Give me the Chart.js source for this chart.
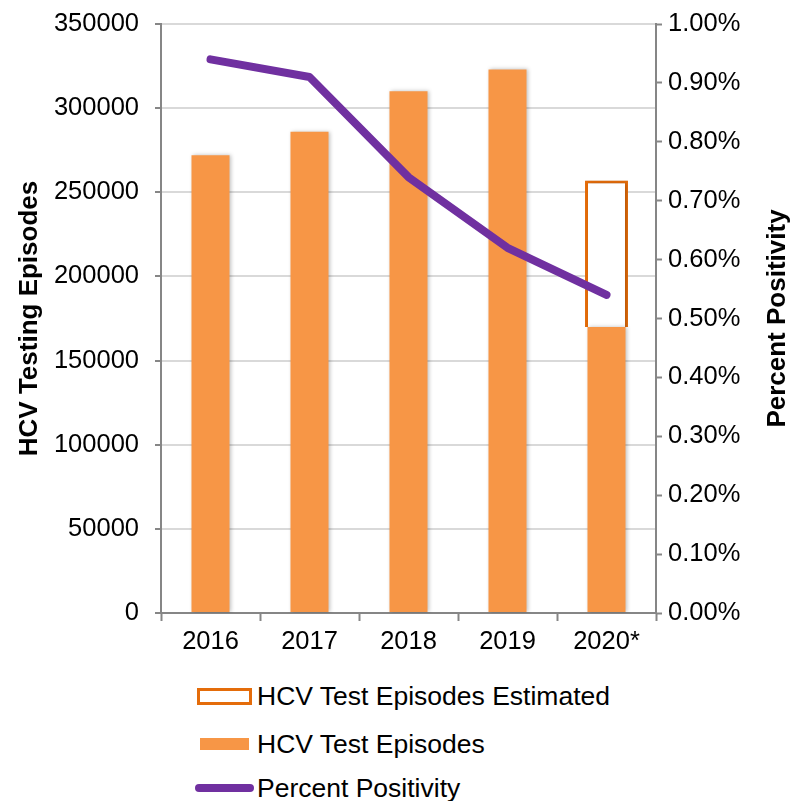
<!DOCTYPE html>
<html lang="en">
<head>
  <meta charset="UTF-8">
  <title>HCV Testing Episodes</title>
  <script src="https://cdn.jsdelivr.net/npm/chart.js"></script>
  <style>
    body { margin: 0; background: #fff; font-family: "Liberation Sans", Arial, sans-serif; }
    .wrap { position: relative; width: 794px; height: 801px; }
    .chart-box { position: absolute; left: 0; top: 0; width: 794px; height: 660px; }
    .legend-row { position: absolute; left: 0; height: 30px; line-height: 30px; font-size: 26.5px; color: #000; white-space: nowrap; }
    .legend-row span.txt { position: absolute; left: 257px; top: 0; }
    .sw { position: absolute; box-sizing: border-box; }
  </style>
</head>
<body>
  <div class="wrap">
    <div class="chart-box">
      <canvas id="grafico"></canvas>
    </div>

    <div class="legend-row" style="top: 681px;">
      <div class="sw" style="left: 197px; top: 7px; width: 55px; height: 17px; border: 3px solid #E46C0A; background: #fff;"></div>
      <span class="txt">HCV Test Episodes Estimated</span>
    </div>
    <div class="legend-row" style="top: 729px;">
      <div class="sw" style="left: 200px; top: 9px; width: 49px; height: 12px; background: #F79646;"></div>
      <span class="txt">HCV Test Episodes</span>
    </div>
    <div class="legend-row" style="top: 773px;">
      <div class="sw" style="left: 195px; top: 11px; width: 59px; height: 8px; border-radius: 4px; background: #7030A0;"></div>
      <span class="txt">Percent Positivity</span>
    </div>
  </div>

<script>
  // valores
  const anos = ['2016', '2017', '2018', '2019', '2020*'];
  const episodios = [272000, 286000, 310000, 323000, 170000];
  const episodiosEstimados = [null, null, null, null, 87000];
  const positividade = [0.94, 0.91, 0.74, 0.62, 0.54];

  const cinza = '#868686';
  const fonte = 'Liberation Sans, Arial, sans-serif';

  // sombra leve nas barras
  const sombraBarras = {
    id: 'sombraBarras',
    beforeDatasetDraw(chart, args) {
      if (args.meta.type !== 'bar') return;
      const ctx = chart.ctx;
      ctx.save();
      ctx.shadowColor = 'rgba(0,0,0,0.25)';
      ctx.shadowBlur = 4;
      ctx.shadowOffsetX = 1.5;
      ctx.shadowOffsetY = 0;
    },
    afterDatasetDraw(chart, args) {
      if (args.meta.type !== 'bar') return;
      chart.ctx.restore();
    }
  };

  // titulo do eixo direito, lido de baixo para cima
  const tituloDireita = {
    id: 'tituloDireita',
    afterDraw(chart) {
      const ctx = chart.ctx;
      const area = chart.chartArea;
      ctx.save();
      ctx.translate(778, (area.top + area.bottom) / 2);
      ctx.rotate(-Math.PI / 2);
      ctx.font = 'bold 26px ' + fonte;
      ctx.fillStyle = '#000';
      ctx.textAlign = 'center';
      ctx.textBaseline = 'middle';
      ctx.fillText('Percent Positivity', 0, 0);
      ctx.restore();
    }
  };

  // tira o espaco extra que o Chart.js reserva para os rotulos
  function semPadding(s) {
    s.paddingTop = 0;
    s.paddingBottom = 0;
  }

  const data = {
    labels: anos,
    datasets: [
      {
        type: 'line',
        label: 'Percent Positivity',
        data: positividade,
        yAxisID: 'y1',
        borderColor: '#7030A0',
        backgroundColor: '#7030A0',
        borderWidth: 8,
        borderCapStyle: 'round',
        borderJoinStyle: 'round',
        pointRadius: 0,
        tension: 0,
        order: 0
      },
      {
        type: 'bar',
        label: 'HCV Test Episodes',
        data: episodios,
        yAxisID: 'y',
        stack: 'ep',
        backgroundColor: '#F79646',
        borderWidth: 0,
        barPercentage: 0.384,
        categoryPercentage: 1,
        order: 1
      },
      {
        type: 'bar',
        label: 'HCV Test Episodes Estimated',
        data: episodiosEstimados,
        yAxisID: 'y',
        stack: 'ep',
        backgroundColor: '#ffffff',
        borderColor: '#E46C0A',
        borderWidth: 3,
        barPercentage: 0.434,
        categoryPercentage: 1,
        order: 2
      }
    ]
  };

  const config = {
    data: data,
    plugins: [sombraBarras, tituloDireita],
    options: {
      responsive: true,
      maintainAspectRatio: false,
      animation: false,
      layout: { padding: { top: 24, left: 0, right: 0, bottom: 0 } },
      plugins: {
        legend: { display: false },
        tooltip: { enabled: false }
      },
      scales: {
        x: {
          stacked: true,
          offset: true,
          grid: {
            offset: true,
            drawOnChartArea: false,
            drawTicks: true,
            tickLength: 8,
            tickColor: cinza,
            tickWidth: 2
          },
          border: { color: cinza, width: 2 },
          ticks: { color: '#000', font: { family: fonte, size: 25.5 }, padding: 6, maxRotation: 0 },
          afterFit: s => { s.height = 47; }
        },
        y: {
          position: 'left',
          stacked: true,
          min: 0,
          max: 350000,
          grid: {
            color: '#d9d9d9',
            lineWidth: 2,
            drawTicks: true,
            tickLength: 6,
            tickColor: cinza,
            tickWidth: 2
          },
          border: { color: cinza, width: 2 },
          ticks: {
            stepSize: 50000,
            color: '#000',
            font: { family: fonte, size: 25.5 },
            padding: 16,
            callback: v => String(v)
          },
          title: {
            display: true,
            text: 'HCV Testing Episodes',
            color: '#000',
            font: { family: fonte, size: 26, weight: 'bold' },
            padding: { top: 14, bottom: 0 }
          },
          afterFit: s => { s.width = 161; semPadding(s); }
        },
        y1: {
          position: 'right',
          min: 0,
          max: 1,
          grid: {
            drawOnChartArea: false,
            drawTicks: true,
            tickLength: 6,
            tickColor: cinza,
            tickWidth: 2
          },
          border: { color: cinza, width: 2 },
          ticks: {
            stepSize: 0.1,
            color: '#000',
            font: { family: fonte, size: 25.5 },
            padding: 6,
            callback: v => v.toFixed(2) + '%'
          },
          afterFit: s => { s.width = 138; semPadding(s); }
        }
      }
    }
  };

  const meuGrafico = new Chart(document.getElementById('grafico'), config);
</script>
</body>
</html>
